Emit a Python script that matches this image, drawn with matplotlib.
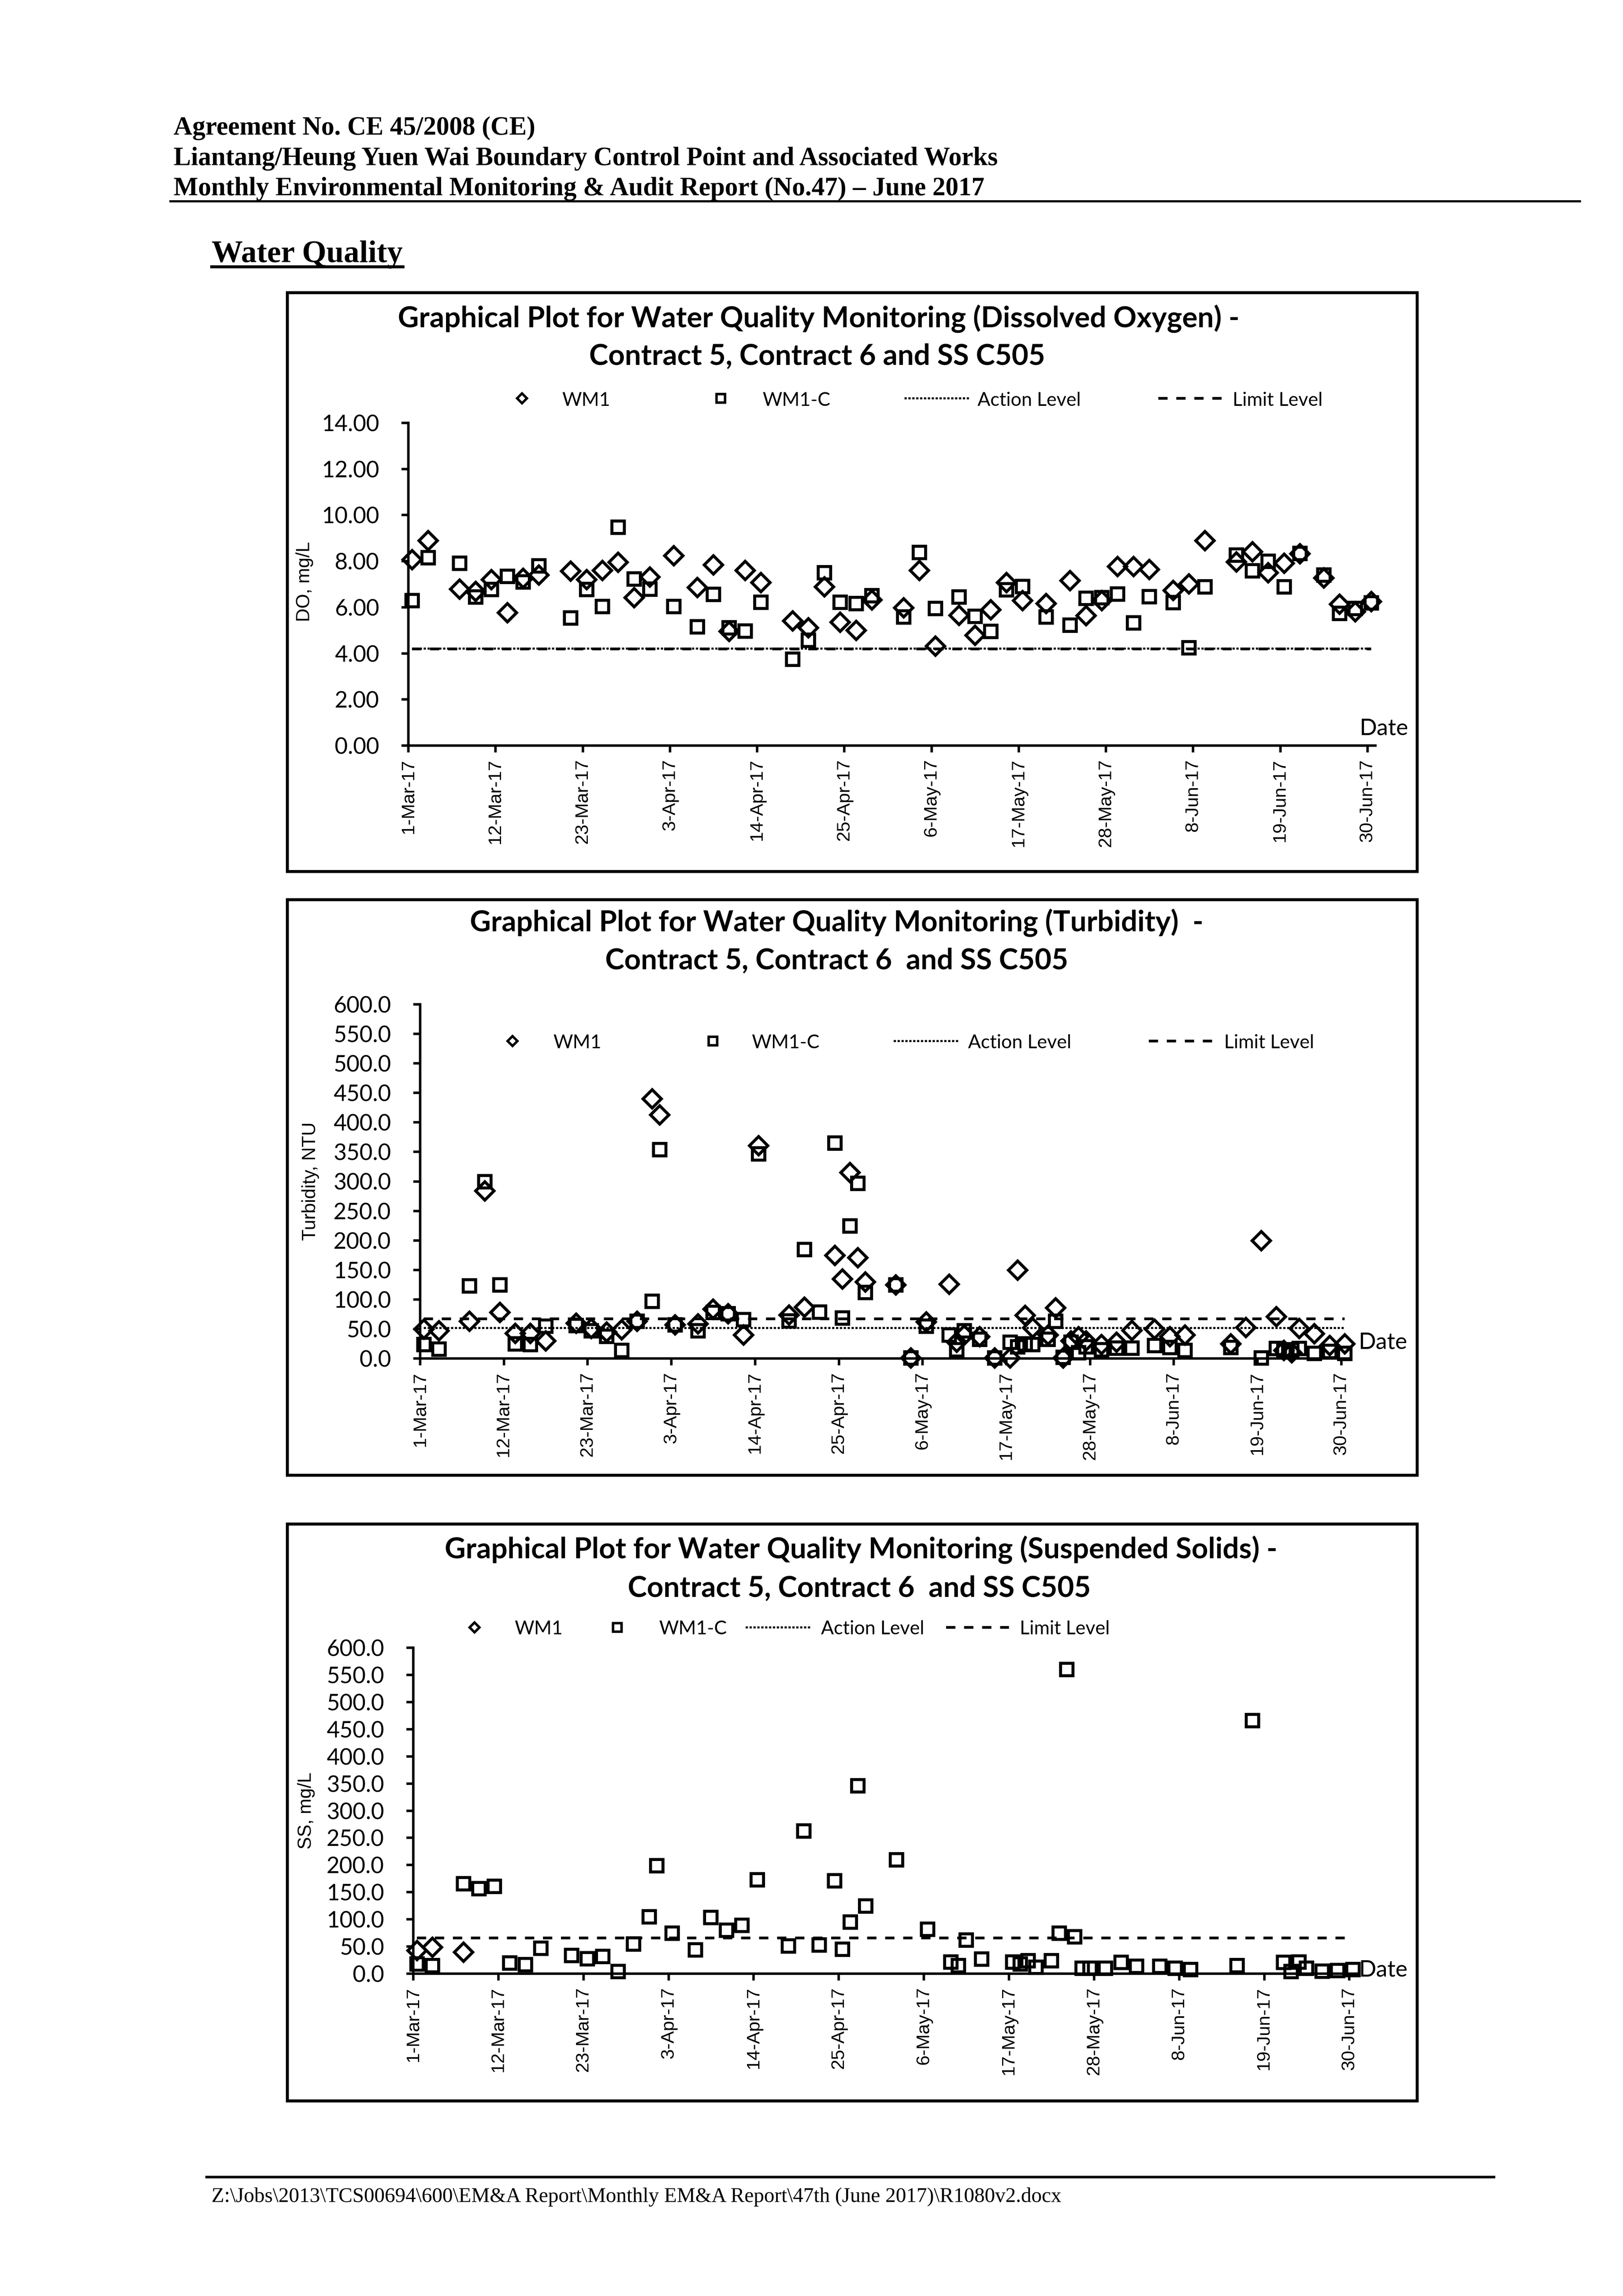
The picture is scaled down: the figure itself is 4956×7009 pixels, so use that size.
"""Water quality page of the June 2017 EM&A report: DO, turbidity and SS plots."""

import matplotlib

matplotlib.use("Agg")  # headless
import matplotlib.dates as mdates  # noqa: E402
import matplotlib.pyplot as plt  # noqa: E402
import numpy as np  # noqa: E402
import pandas as pd  # noqa: E402
from matplotlib.lines import Line2D  # noqa: E402
from matplotlib.patches import Rectangle  # noqa: E402
from matplotlib.ticker import FuncFormatter  # noqa: E402

nan = np.nan

# ---- Dissolved oxygen, mg/L -------------------------------------------------
do_dates = [
    "2017-03-01", "2017-03-03", "2017-03-07", "2017-03-09", "2017-03-11", "2017-03-13",
    "2017-03-15", "2017-03-17", "2017-03-21", "2017-03-23", "2017-03-25", "2017-03-27",
    "2017-03-29", "2017-03-31",
    "2017-04-03", "2017-04-06", "2017-04-08", "2017-04-10", "2017-04-12", "2017-04-14",
    "2017-04-18", "2017-04-20", "2017-04-22", "2017-04-24", "2017-04-26", "2017-04-28",
    "2017-05-02", "2017-05-04", "2017-05-06", "2017-05-09", "2017-05-11", "2017-05-13",
    "2017-05-15", "2017-05-17", "2017-05-20", "2017-05-23", "2017-05-25", "2017-05-27",
    "2017-05-29", "2017-05-31",
    "2017-06-02", "2017-06-05", "2017-06-07", "2017-06-09", "2017-06-13", "2017-06-15",
    "2017-06-17", "2017-06-19", "2017-06-21", "2017-06-24", "2017-06-26", "2017-06-28",
    "2017-06-30",
]
do_wm1 = [
    8.07, 8.90, 6.80, 6.70, 7.21, 5.77, 7.27, 7.40, 7.58, 7.20, 7.61, 7.96, 6.42, 7.32,
    8.24, 6.86, 7.85, 4.96, 7.61, 7.08, 5.42, 5.12, 6.90, 5.36, 5.00, 6.33,
    5.99, 7.61, 4.32, 5.65, 4.79, 5.90, 7.08, 6.30, 6.17, 7.16, 5.64, 6.29, 7.77, 7.77,
    7.64, 6.74, 7.02, 8.90, 7.97, 8.42, 7.51, 7.91, 8.33, 7.28, 6.14, 5.82, 6.25,
]
do_wm1c = [
    6.29, 8.16, 7.92, 6.45, 6.78, 7.35, 7.10, 7.81, 5.55, 6.78, 6.04, 9.48, 7.24, 6.79,
    6.04, 5.16, 6.56, 5.12, 4.97, 6.22, 3.75, 4.58, 7.50, 6.22, 6.17, 6.51,
    5.58, 8.38, 5.96, 6.45, 5.61, 4.96, 6.77, 6.91, 5.58, 5.23, 6.40, 6.42, 6.58, 5.33,
    6.47, 6.21, 4.25, 6.89, 8.27, 7.59, 8.00, 6.90, 8.34, 7.40, 5.74, 5.96, 6.20,
]
do_action = 4.21
do_limit = 4.20

# ---- Turbidity (NTU) and suspended solids (mg/L): same sampling days --------
tss_dates = [
    "2017-03-01", "2017-03-03", "2017-03-07", "2017-03-09", "2017-03-11", "2017-03-13",
    "2017-03-15", "2017-03-17", "2017-03-21", "2017-03-23", "2017-03-25", "2017-03-27",
    "2017-03-29", "2017-03-31",
    "2017-04-01", "2017-04-03", "2017-04-06", "2017-04-08", "2017-04-10", "2017-04-12",
    "2017-04-14", "2017-04-18", "2017-04-20", "2017-04-22", "2017-04-24", "2017-04-25",
    "2017-04-26", "2017-04-27", "2017-04-28",
    "2017-05-02", "2017-05-04", "2017-05-06", "2017-05-09", "2017-05-10", "2017-05-11",
    "2017-05-13", "2017-05-15", "2017-05-17", "2017-05-18", "2017-05-19", "2017-05-20",
    "2017-05-22", "2017-05-23", "2017-05-24", "2017-05-25", "2017-05-26", "2017-05-27",
    "2017-05-29", "2017-05-31",
    "2017-06-02", "2017-06-05", "2017-06-07", "2017-06-09", "2017-06-15", "2017-06-17",
    "2017-06-19", "2017-06-21", "2017-06-22", "2017-06-23", "2017-06-24", "2017-06-26",
    "2017-06-28", "2017-06-30",
]
turb_wm1 = [
    50, 47, 63, 284, 78, 43, 43, 30, 60, 51, 45, 49, 63, 440,
    413, 57, 59, 84, 76, 40, 361, 74, 87, nan, 175, 135, 315, 171, 130,
    125, 1, 62, 126, 28, 40, 37, 1, 1, 150, 73, 52, 40, 86, 1, 30, 37, 30, 24, 28,
    48, 50, 37, 40, 25, 53, 200, 71, 14, 10, 51, 42, 22, 25,
]
turb_wm1c = [
    24, 16, 123, 300, 125, 25, 24, 55, 56, 47, 38, 14, 63, 97,
    354, 57, 47, 78, 76, 66, 347, 64, 185, 79, 365, 69, 225, 297, 112,
    125, 1, 55, 40, 15, 47, 33, 1, 28, 20, 25, 24, 33, 63, 2, 28, 10, 20, 15, 18,
    18, 22, 19, 14, 19, nan, 1, 17, 14, 15, 17, 9, 12, 9,
]
turb_action = 51.7
turb_limit = 67.4

ss_wm1_dates = ["2017-03-01", "2017-03-03", "2017-03-07"]
ss_wm1 = [43, 49, 40]
ss_wm1c = [
    18, 15, 166, 157, 161, 20, 17, 47, 34, 28, 32, 4, 55, 105,
    199, 75, 44, 104, 80, 89, 173, 51, 263, 53, 171, 45, 95, 346, 125,
    210, nan, 82, 22, 15, 62, 27, nan, 22, 18, 24, 12, 24, 75, 560, 68, 10, 10, 10, 21,
    14, 14, 10, 8, 15, 466, nan, 21, 4, 22, 10, 5, 6, 8,
]
ss_limit = 65.6

tick_dates = pd.date_range("2017-03-01", "2017-06-30", freq="11D")
x_range = (pd.Timestamp("2017-03-01"), pd.Timestamp("2017-07-01"))

header_lines = [
    "Agreement No. CE 45/2008 (CE)",
    "Liantang/Heung Yuen Wai Boundary Control Point and Associated Works",
    "Monthly Environmental Monitoring & Audit Report (No.47) \u2013 June 2017",
]
section_title = "Water Quality"
footer_text = r"Z:\Jobs\2013\TCS00694\600\EM&A Report\Monthly EM&A Report\47th (June 2017)\R1080v2.docx"
legend_labels = ["WM1", "WM1-C", "Action Level", "Limit Level"]

# ---- page set-up (pixel layout of a 600 dpi A4 scan) -------------------------
W, H, DPI = 4956, 7009, 600
SERIF, ARIAL, CALIBRI = "Liberation Serif", "Liberation Sans", "Lato"
SAMPLE_TIME = pd.Timedelta(hours=11)  # samples sit a little after midnight on the date axis

fig = plt.figure(figsize=(W / DPI, H / DPI), dpi=DPI)
fig.patch.set_facecolor("white")
renderer = fig.canvas.get_renderer()


def fx(px):
    return px / W


def fy(py):
    return 1 - py / H


def fit(s, target_px, **kw):
    """Font size that makes string s about target_px wide."""
    t = fig.text(0, 0, s, fontsize=10, **kw)
    w = t.get_window_extent(renderer).width
    t.remove()
    return 10 * target_px / w


def hrule(x0, x1, y, lw):
    fig.add_artist(Line2D([fx(x0), fx(x1)], [fy(y), fy(y)], color="black", lw=lw))


def day_label(v, _pos=None):
    d = mdates.num2date(v)
    return f"{d.day}-{d:%b}-{d:%y}"


def when(dates):
    return pd.to_datetime(dates) + SAMPLE_TIME


# ---- header / footer ----------------------------------------------------------
hdr_size = fit(header_lines[1], 2522, family=SERIF, weight="bold")
for line, base in zip(header_lines, (412, 504, 596), strict=True):
    fig.text(fx(530), fy(base), line, family=SERIF, weight="bold", fontsize=hdr_size, va="baseline")
hrule(520, 4824, 614, 0.8)

sec_size = fit(section_title, 584, family=SERIF, weight="bold")
sec = fig.text(fx(646), fy(800), section_title, family=SERIF, weight="bold", fontsize=sec_size,
               va="baseline")
sec_w = sec.get_window_extent(renderer).width
hrule(646, 646 + sec_w, 814, 1.1)

hrule(631, 4562, 6646, 0.95)
foot_size = fit(footer_text, 2602, family=SERIF)
fig.text(fx(646), fy(6722), footer_text, family=SERIF, fontsize=foot_size, va="baseline")

# ---- shared chart styling --------------------------------------------------------
title_size = fit("Graphical Plot for Water Quality Monitoring (Dissolved Oxygen) -", 2572,
                 family=CALIBRI, weight="bold")
legend_size = fit("Action Level", 316, family=CALIBRI)
date_size = fit("Date", 149, family=CALIBRI)
ylabel_size = fit("Turbidity, NTU", 363, family=ARIAL)
xtick_size = fit("30-Jun-17", 253, family=ARIAL)
ytick_size = fit("14.00", 176, family=CALIBRI)

MARK = dict(ls="none", mfc="none", mec="black", mew=1.1, clip_on=False, zorder=3)
WM1_MARK = dict(marker="D", ms=4.7, **MARK)
WM1C_MARK = dict(marker="s", ms=4.5, **MARK)
ACTION_LINE = dict(colors="black", linewidth=0.75, linestyles=[(0, (1.1, 0.8))], zorder=2)
LIMIT_LINE = dict(colors="black", linewidth=1.0, linestyles=[(0, (3.4, 3.2))], zorder=2)

CHARTS = [
    dict(
        box=(877, 893, 4327, 2660), axes=(1247, 4200, 2276, 1291), ymax=14, step=2, dec=2,
        ylabel="DO, mg/L", ylabel_at=(930, 1776),
        titles=("Graphical Plot for Water Quality Monitoring (Dissolved Oxygen) -",
                "Contract 5, Contract 6 and SS C505"),
        title_at=((2500, 999), (2495, 1113)),
        legend_y=(1216, 1239),
        legend_x=(1594, 1716, 2201, 2328, (2762, 2963), 2985, (3537, 3731), 3764),
        date_at=(4152, 2243),
    ),
    dict(
        box=(877, 2746, 4327, 4503), axes=(1283, 4119, 4147, 3066), ymax=600, step=50, dec=1,
        ylabel="Turbidity, NTU", ylabel_at=(948, 3606),
        titles=("Graphical Plot for Water Quality Monitoring (Turbidity)  -",
                "Contract 5, Contract 6  and SS C505"),
        title_at=((2555, 2843), (2555, 2958)),
        legend_y=(3178, 3200),
        legend_x=(1565, 1689, 2177, 2295, (2729, 2930), 2956, (3508, 3702), 3738),
        date_at=(4149, 4118),
    ),
    dict(
        box=(877, 4652, 4327, 6413), axes=(1262, 4144, 6025, 5030), ymax=600, step=50, dec=1,
        ylabel="SS, mg/L", ylabel_at=(935, 5528),
        titles=("Graphical Plot for Water Quality Monitoring (Suspended Solids) -",
                "Contract 5, Contract 6  and SS C505"),
        title_at=((2629, 4757), (2624, 4874)),
        legend_y=(4968, 4989),
        legend_x=(1449, 1571, 1885, 2012, (2277, 2478), 2507, (2889, 3081), 3114),
        date_at=(4150, 6033),
    ),
]


def make_chart(c):
    x0, y0, x1, y1 = c["box"]
    fig.add_artist(Rectangle((fx(x0), fy(y1)), fx(x1) - fx(x0), fy(y0) - fy(y1),
                             fill=False, ec="black", lw=1.1))

    for text, (tx, ty) in zip(c["titles"], c["title_at"], strict=True):
        fig.text(fx(tx), fy(ty), text, family=CALIBRI, weight="bold", fontsize=title_size,
                 ha="center", va="baseline")

    # legend row, drawn by hand to keep Excel's uneven spacing
    ys, yt = c["legend_y"]
    xd, xdt, xs, xst, dot, xat, dash, xlt = c["legend_x"]
    fig.add_artist(Line2D([fx(xd)], [fy(ys)], marker="D", ms=2.5, ls="none", mfc="none",
                          mec="black", mew=0.9))
    fig.add_artist(Line2D([fx(xs)], [fy(ys)], marker="s", ms=3.2, ls="none", mfc="none",
                          mec="black", mew=0.9))
    fig.add_artist(Line2D([fx(dot[0]), fx(dot[1])], [fy(ys)] * 2, color="black", lw=0.75,
                          ls=(0, (1.1, 0.8))))
    fig.add_artist(Line2D([fx(dash[0]), fx(dash[1])], [fy(ys)] * 2, color="black", lw=1.0,
                          ls=(0, (3.4, 3.2))))
    for label, xt in zip(legend_labels, (xdt, xst, xat, xlt), strict=True):
        fig.text(fx(xt), fy(yt), label, family=CALIBRI, fontsize=legend_size, va="baseline")

    fig.text(fx(c["date_at"][0]), fy(c["date_at"][1]), "Date", family=CALIBRI,
             fontsize=date_size, va="baseline")
    fig.text(fx(c["ylabel_at"][0]), fy(c["ylabel_at"][1]), c["ylabel"], family=ARIAL,
             fontsize=ylabel_size, rotation=90, ha="center", va="center")

    left, right, bottom, top = c["axes"]
    ax = fig.add_axes([fx(left), fy(bottom), fx(right) - fx(left), fy(top) - fy(bottom)])
    ax.patch.set_visible(False)
    for side in ("top", "right"):
        ax.spines[side].set_visible(False)
    for side in ("left", "bottom"):
        ax.spines[side].set_linewidth(0.9)

    ax.set_xlim(*x_range)
    ax.set_xticks(tick_dates)
    ax.xaxis.set_major_formatter(FuncFormatter(day_label))
    ax.set_ylim(0, c["ymax"])
    ax.set_yticks(np.arange(0, c["ymax"] + c["step"] / 2, c["step"]))
    dec = c["dec"]
    ax.yaxis.set_major_formatter(FuncFormatter(lambda v, _p: f"{v:.{dec}f}"))

    ax.tick_params(axis="both", direction="out", length=2.5, width=0.9, colors="black")
    ax.tick_params(axis="x", labelrotation=90, pad=2.4, labelsize=xtick_size,
                   labelfontfamily=ARIAL)
    ax.tick_params(axis="y", pad=8.2, labelsize=ytick_size, labelfontfamily=CALIBRI)
    return ax


ax_do, ax_turb, ax_ss = (make_chart(c) for c in CHARTS)

# (A) dissolved oxygen
t = when(do_dates)
ax_do.plot(t, do_wm1, **WM1_MARK)
ax_do.plot(t, do_wm1c, **WM1C_MARK)
ax_do.hlines(do_action, t[0], t[-1], **ACTION_LINE)
ax_do.hlines(do_limit, t[0], t[-1], **LIMIT_LINE)

# (B) turbidity
t = when(tss_dates)
ax_turb.plot(t, turb_wm1, **WM1_MARK)
ax_turb.plot(t, turb_wm1c, **WM1C_MARK)
ax_turb.hlines(turb_action, t[0], t[-1], **ACTION_LINE)
ax_turb.hlines(turb_limit, t[0], t[-1], **LIMIT_LINE)

# (C) suspended solids: WM1 was only sampled on the first three days
ax_ss.plot(when(ss_wm1_dates), ss_wm1, **WM1_MARK)
ax_ss.plot(t, ss_wm1c, **WM1C_MARK)
ax_ss.hlines(ss_limit, t[0], t[-1], **LIMIT_LINE)

fig.savefig("out.png", dpi=DPI, facecolor="white")
plt.close(fig)
